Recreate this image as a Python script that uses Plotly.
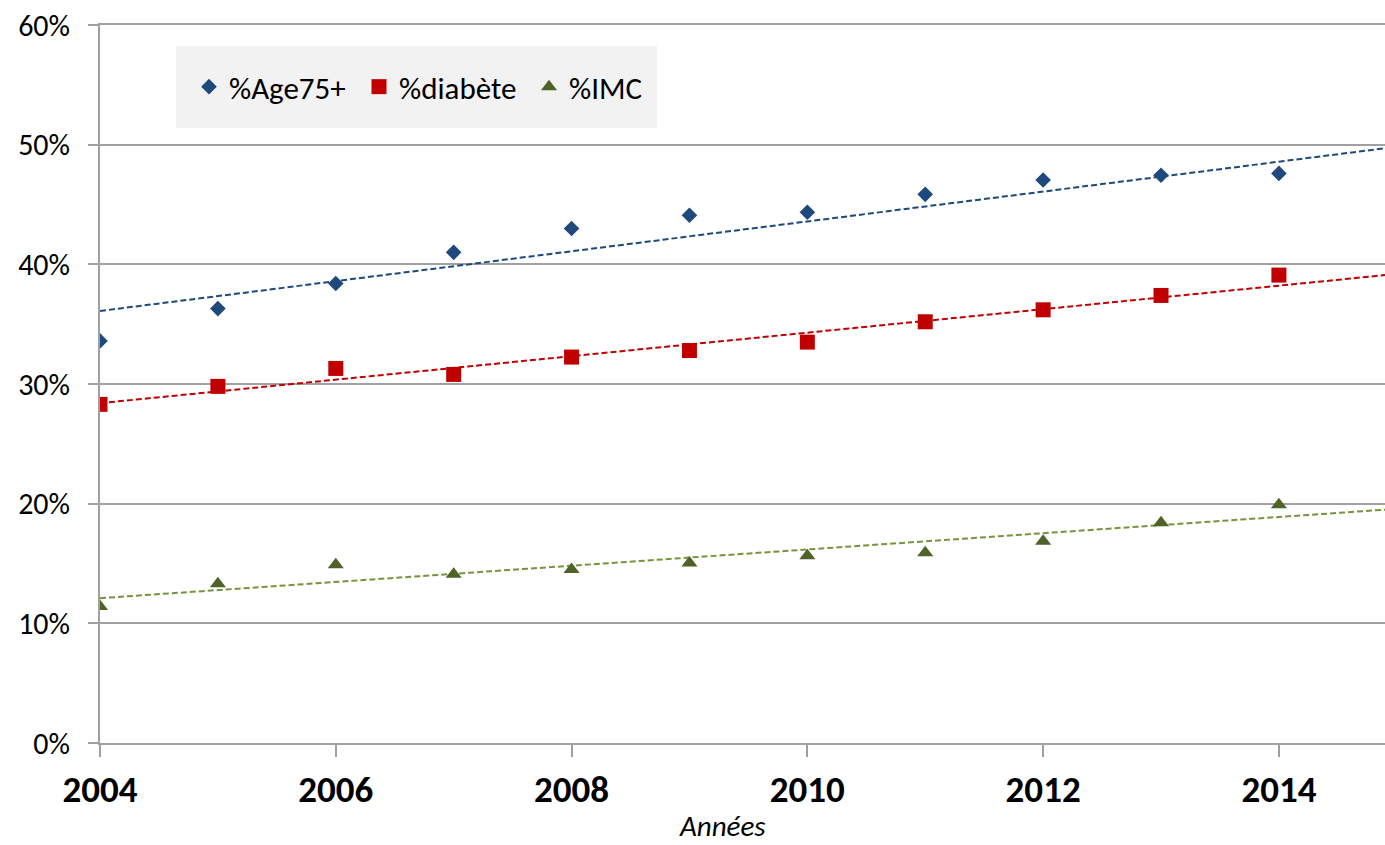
import plotly.graph_objects as go

years = [2004, 2005, 2006, 2007, 2008, 2009, 2010, 2011, 2012, 2013, 2014]
age75 = [33.6, 36.3, 38.4, 41.0, 43.0, 44.1, 44.35, 45.85, 47.05, 47.45, 47.6]
diabete = [28.3, 29.8, 31.3, 30.8, 32.25, 32.8, 33.5, 35.2, 36.2, 37.4, 39.1]
imc = [11.4, 13.3, 14.9, 14.1, 14.5, 15.05, 15.65, 15.9, 16.85, 18.4, 19.9]

# linear trendlines (value at 2004 and at the right edge)
trend_x = [2004, 2014.9]
trend_age75 = [36.1, 49.7]
trend_diabete = [28.4, 39.1]
trend_imc = [12.1, 19.5]

names = ["%Age75+", "%diabète", "%IMC"]
colors = ["#1F497D", "#C00000", "#4F6228"]
trend_colors = ["#1F497D", "#C00000", "#77933C"]
symbols = ["diamond", "square", "triangle-up"]
sizes = [12, 15, 14]

x_min, x_max = 2004, 2014.9
y_ticks = [0, 10, 20, 30, 40, 50, 60]
x_ticks = [2004, 2006, 2008, 2010, 2012, 2014]

fig = go.Figure()
for tr, tc in zip([trend_age75, trend_diabete, trend_imc], trend_colors):
    fig.add_trace(go.Scatter(x=trend_x, y=[v / 100 for v in tr], mode="lines",
                             line=dict(color=tc, width=2, dash="6px,3px"), showlegend=False,
                             hoverinfo="skip"))
for series, name, c, s, sz in zip([age75, diabete, imc], names, colors, symbols, sizes):
    fig.add_trace(go.Scatter(x=years, y=[v / 100 for v in series], mode="markers", name=name,
                             marker=dict(symbol=s, size=sz, color=c, line=dict(width=0))))

font_family = "Carlito, Lato, Liberation Sans, Arial, sans-serif"
fig.update_layout(
    width=1385, height=845,
    margin=dict(l=100, r=0, t=25, b=102),
    plot_bgcolor="white", paper_bgcolor="white",
    font=dict(family=font_family, color="black"),
    showlegend=True,
    legend=dict(orientation="h", x=(189 - 100) / 1285, y=(743 - 87) / 718, xanchor="left", yanchor="middle",
                bgcolor="rgba(0,0,0,0)", font=dict(size=31, family=font_family),
                itemsizing="trace", itemwidth=30, entrywidth=125, entrywidthmode="pixels"),
    shapes=[dict(type="rect", xref="paper", yref="paper", x0=(176 - 100) / 1285, x1=(657 - 100) / 1285,
                 y0=(743 - 128) / 718, y1=(743 - 46) / 718, fillcolor="#F2F2F2", line=dict(width=0),
                 layer="below")],
    annotations=[dict(text="<i>Années</i>", xref="paper", yref="paper", x=(722 - 100) / 1285,
                      y=(743 - 826) / 718, xanchor="center", yanchor="middle", showarrow=False,
                      font=dict(size=29, family=font_family, color="black"))],
    xaxis=dict(range=[x_min, x_max], tickvals=x_ticks, ticktext=[str(t) for t in x_ticks],
               tickfont=dict(size=37, family=font_family, weight="bold"),
               showgrid=False, zeroline=False, showline=True, mirror=True,
               linecolor="#A0A0A0", linewidth=2, automargin=False,
               ticks="outside", ticklen=12, tickcolor="#A0A0A0", tickwidth=2, ticklabelstandoff=1),
    yaxis=dict(range=[0, 0.6], tickvals=[t / 100 for t in y_ticks], ticktext=[f"{t}%" for t in y_ticks],
               tickfont=dict(size=30, family=font_family), automargin=False, ticklabeloverflow="allow",
               showgrid=True, gridcolor="#A0A0A0", gridwidth=2, zeroline=False,
               showline=True, linecolor="#A0A0A0", linewidth=2,
               ticks="outside", ticklen=10, tickcolor="#A0A0A0", tickwidth=2, ticklabelstandoff=12),
)
# remove the browser's default 8px body margin so the 1385x845 figure fills the window exactly
fig.write_html("out.html", config={"displayModeBar": False},
               post_script="document.body.style.margin='0';document.body.style.overflow='hidden';")
